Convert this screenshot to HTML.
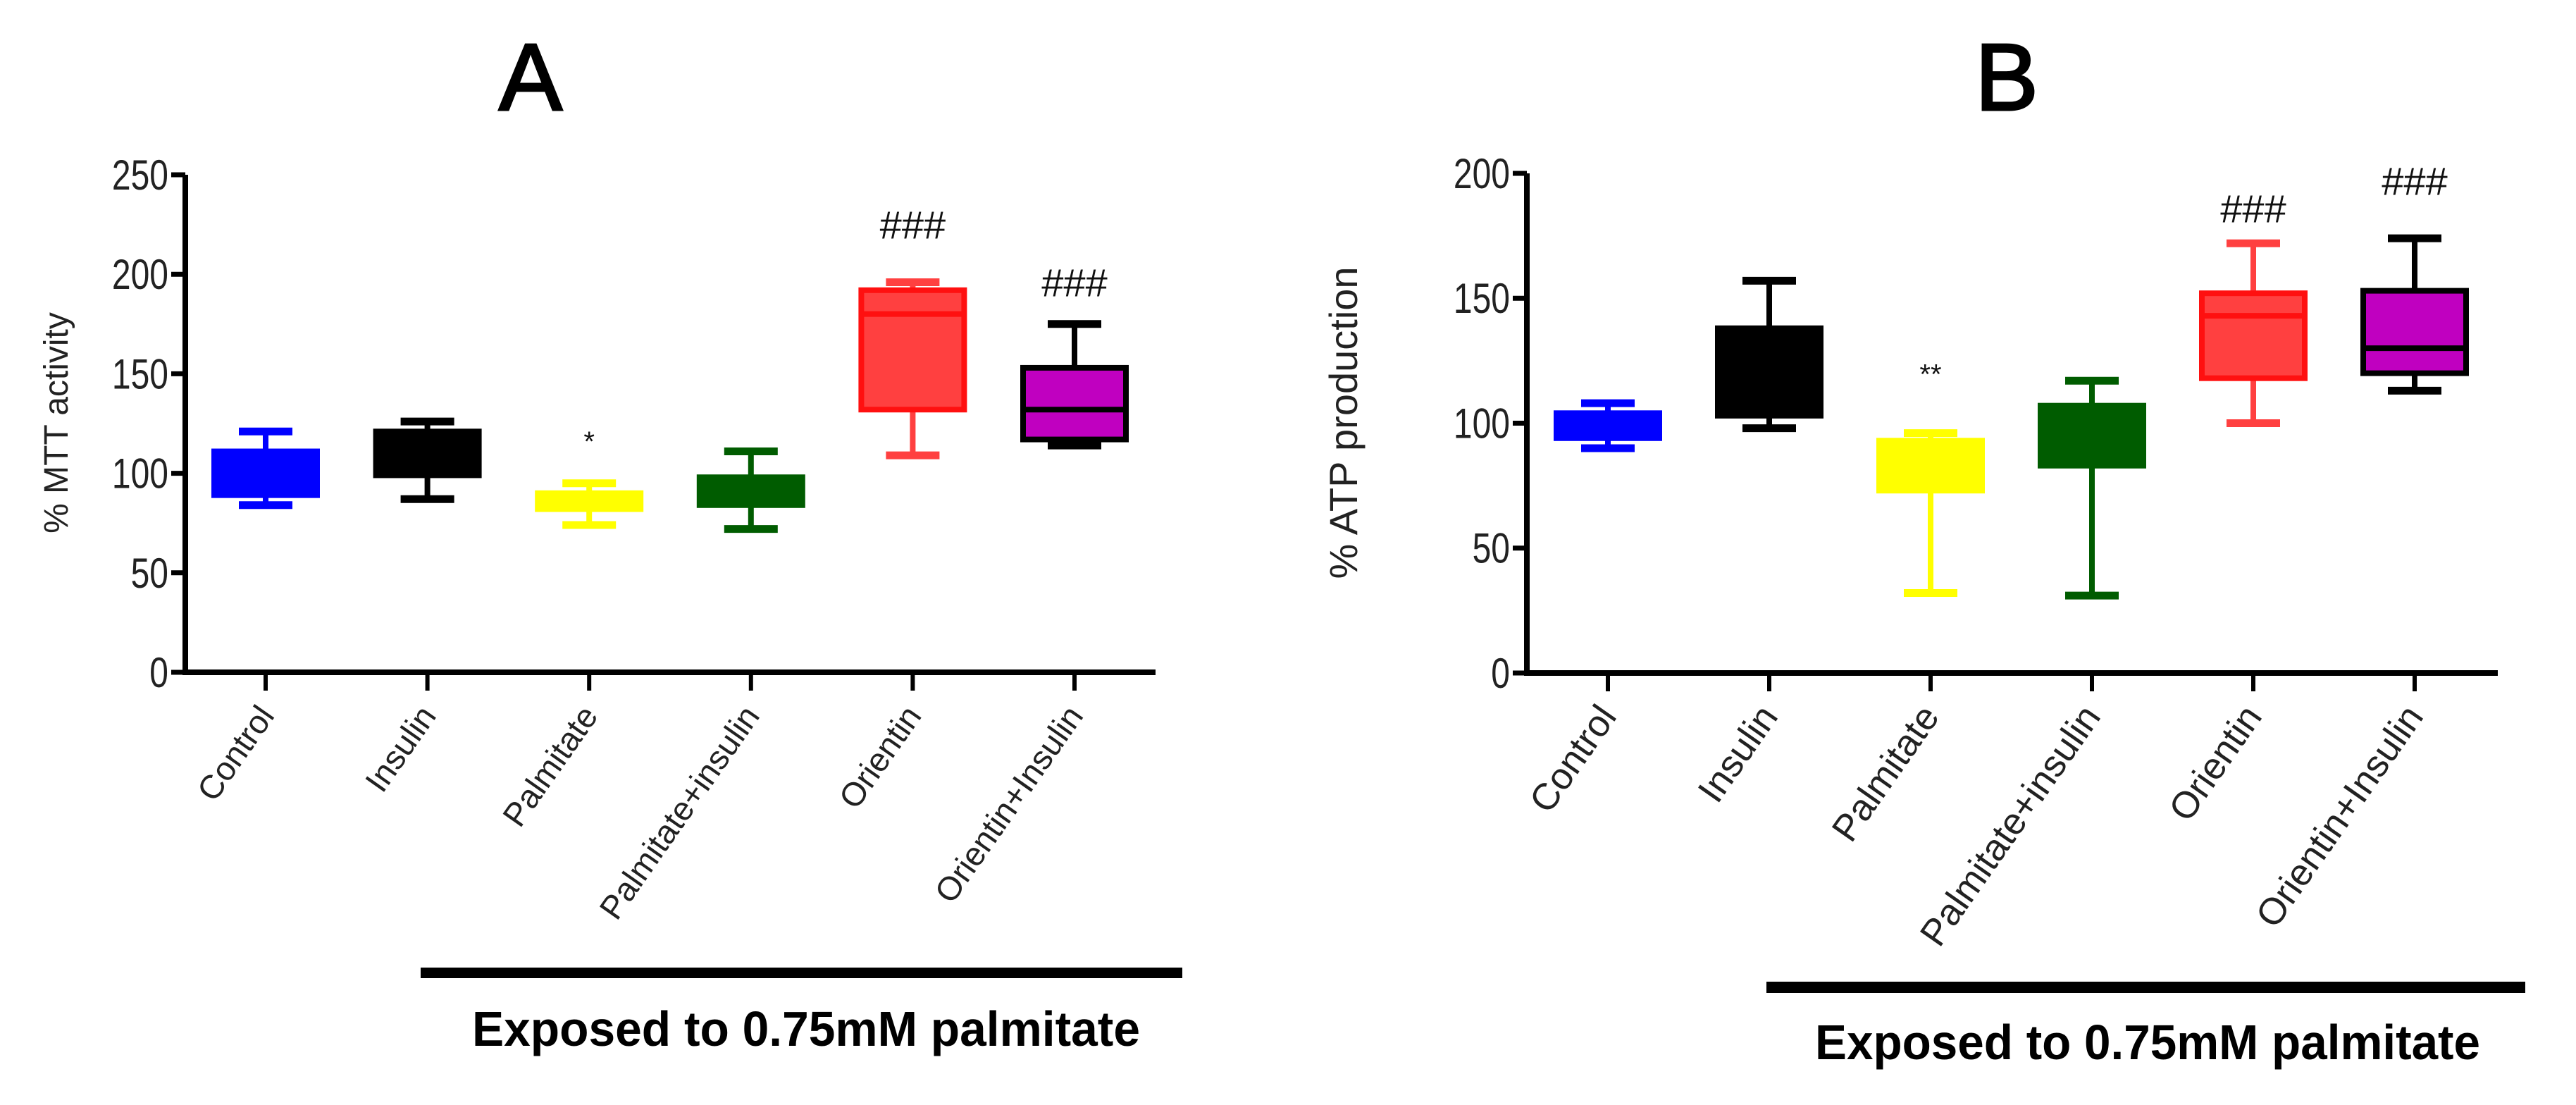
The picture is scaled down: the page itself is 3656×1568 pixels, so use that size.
<!DOCTYPE html>
<html><head><meta charset="utf-8"><style>
html,body{margin:0;padding:0;background:#fff;}
svg{display:block;}
text{font-family:"Liberation Sans",sans-serif;}
</style></head>
<body>
<svg id="fig" width="3656" height="1568" viewBox="0 0 3656 1568" xmlns="http://www.w3.org/2000/svg">
<rect x="0" y="0" width="3656" height="1568" fill="#fff"/>
<text x="753" y="156" font-size="135" text-anchor="middle" stroke="#000" stroke-width="3">A</text>
<text x="2848" y="156" font-size="135" text-anchor="middle" stroke="#000" stroke-width="3">B</text>
<g id="pA"></g>
<g id="pB"></g>
<rect x="597" y="1373" width="1081" height="15" fill="#000"/>
<text x="1144" y="1484" font-size="70" font-weight="bold" text-anchor="middle" textLength="948" lengthAdjust="spacingAndGlyphs">Exposed to 0.75mM palmitate</text>
<rect x="2507" y="1393" width="1077" height="16" fill="#000"/>
<text x="3048" y="1503" font-size="70" font-weight="bold" text-anchor="middle" textLength="944" lengthAdjust="spacingAndGlyphs">Exposed to 0.75mM palmitate</text>
</svg>
<script>
const categories = ["Control","Insulin","Palmitate","Palmitate+insulin","Orientin","Orientin+Insulin"];
// Panel A (% MTT activity)
const aWhiskerLow = [84, 87, 74, 72, 109, 114];
const aQ1 = [89, 99, 82, 84, 132, 117];
const aMedian = [100, 110, 86, 91, 180, 132];
const aQ3 = [111, 121, 90, 98, 192, 153];
const aWhiskerHigh = [121, 126, 95, 111, 196, 175];
const aMarks = ["", "", "*", "", "###", "###"];
const aMarkValues = [0, 0, 119, 0, 225, 196];
const aTicks = [0, 50, 100, 150, 200, 250];
// Panel B (% ATP production)
const bWhiskerLow = [90, 98, 32, 31, 100, 113];
const bQ1 = [94, 103, 73, 83, 118, 120];
const bMedian = [99, 120, 85, 95, 143, 130];
const bQ3 = [104, 138, 93, 107, 152, 153];
const bWhiskerHigh = [108, 157, 96, 117, 172, 174];
const bMarks = ["", "", "**", "", "###", "###"];
const bMarkValues = [0, 0, 122, 0, 186, 197];
const bTicks = [0, 50, 100, 150, 200];

const fills = ["#0000ff","#000000","#ffff00","#005c00","#ff4040","#c000c0"];
const strokes = ["#0000ff","#000000","#ffff00","#005c00","#ff1010","#000000"];
const whiskerCols = ["#0000ff","#000000","#ffff00","#005c00","#ff4040","#000000"];

const NS = "http://www.w3.org/2000/svg";
function mk(parent, tag, attrs){
  const e = document.createElementNS(NS, tag);
  for (const k in attrs) e.setAttribute(k, attrs[k]);
  parent.appendChild(e);
  return e;
}
function drawPanel(g, cfg){
  const yScale = v => cfg.y0 - (v / cfg.vmax) * (cfg.y0 - cfg.yTop);
  const xScale = i => cfg.x0 + i * cfg.step;
  const ya = mk(g, "line", {x1:cfg.ax, y1:cfg.yTop, x2:cfg.ax, y2:cfg.y0+4, stroke:"#000","stroke-width":8});
  
  
  const xa = mk(g, "line", {x1:cfg.ax-4, y1:cfg.y0, x2:cfg.axEnd, y2:cfg.y0, stroke:"#000","stroke-width":8});
  
  
  cfg.ticks.forEach(t => {
    const y = yScale(t);
    const tk = mk(g, "line", {x1:cfg.ax-20, y1:y, x2:cfg.ax, y2:y, stroke:"#000","stroke-width":7});
    
    
    const tl = mk(g, "text", {x:cfg.ax-24, y:y+21, "font-size":60, "text-anchor":"end", fill:"#222", transform:`translate(${cfg.ax-24},0) scale(0.8,1) translate(${-(cfg.ax-24)},0)`});
    tl.textContent = t;
    
    
  });
  const yt = mk(g, "text", {x:0, y:0, "font-size":cfg.titleSize, "text-anchor":"middle", fill:"#222",
     transform:`translate(${cfg.titleX},${cfg.titleY}) rotate(-90)`, "xml:space":"preserve"});
  yt.textContent = cfg.title;
  
  
  categories.forEach((c, i) => {
    const x = xScale(i);
    const tk = mk(g, "line", {x1:x, y1:cfg.y0, x2:x, y2:cfg.y0+26, stroke:"#000","stroke-width":6});
    
    
    const lab = mk(g, "text", {x:0, y:0, "font-size":cfg.labSize, "text-anchor":"end", fill:"#222",
       transform:`translate(${x+14},${cfg.y0+62}) rotate(-55)`});
    lab.textContent = c;
    
    
    const d = cfg.data;
    const bg = mk(g, "g", {});
    
    
    const yH = yScale(d.hi[i]), yQ3 = yScale(d.q3[i]), yQ1 = yScale(d.q1[i]), yL = yScale(d.lo[i]), yM = yScale(d.med[i]);
    mk(bg, "line", {x1:x, y1:yH, x2:x, y2:yL, stroke:whiskerCols[i], "stroke-width":8});
    mk(bg, "line", {x1:x-38, y1:yH, x2:x+38, y2:yH, stroke:whiskerCols[i], "stroke-width":11});
    mk(bg, "line", {x1:x-38, y1:yL, x2:x+38, y2:yL, stroke:whiskerCols[i], "stroke-width":11});
    mk(bg, "rect", {x:x-73, y:yQ3, width:146, height:yQ1-yQ3, fill:fills[i], stroke:strokes[i], "stroke-width":8});
    mk(bg, "line", {x1:x-73, y1:yM, x2:x+73, y2:yM, stroke:strokes[i], "stroke-width":8});
    if (d.marks[i]) {
      const m = mk(g, "text", {x:x, y:yScale(d.markV[i]) + (d.marks[i][0]==="#"?20:22), "font-size": d.marks[i][0]==="#"?56:40, "text-anchor":"middle", fill:"#111"});
      m.textContent = d.marks[i];
      
      
    }
  });
}
drawPanel(document.getElementById("pA"), {
  ax:263, axEnd:1640, y0:954, yTop:248, vmax:250, x0:377, step:229.6, ticks:aTicks,
  title:"% MTT activity", titleSize:48, titleX:96, titleY:600, labSize:47,
  data:{lo:aWhiskerLow,q1:aQ1,med:aMedian,q3:aQ3,hi:aWhiskerHigh,marks:aMarks,markV:aMarkValues}
});
drawPanel(document.getElementById("pB"), {
  ax:2167, axEnd:3545, y0:955, yTop:246, vmax:200, x0:2282, step:229, ticks:bTicks,
  title:"% ATP  production", titleSize:56, titleX:1926, titleY:600, labSize:53,
  data:{lo:bWhiskerLow,q1:bQ1,med:bMedian,q3:bQ3,hi:bWhiskerHigh,marks:bMarks,markV:bMarkValues}
});
</script>
</body></html>
